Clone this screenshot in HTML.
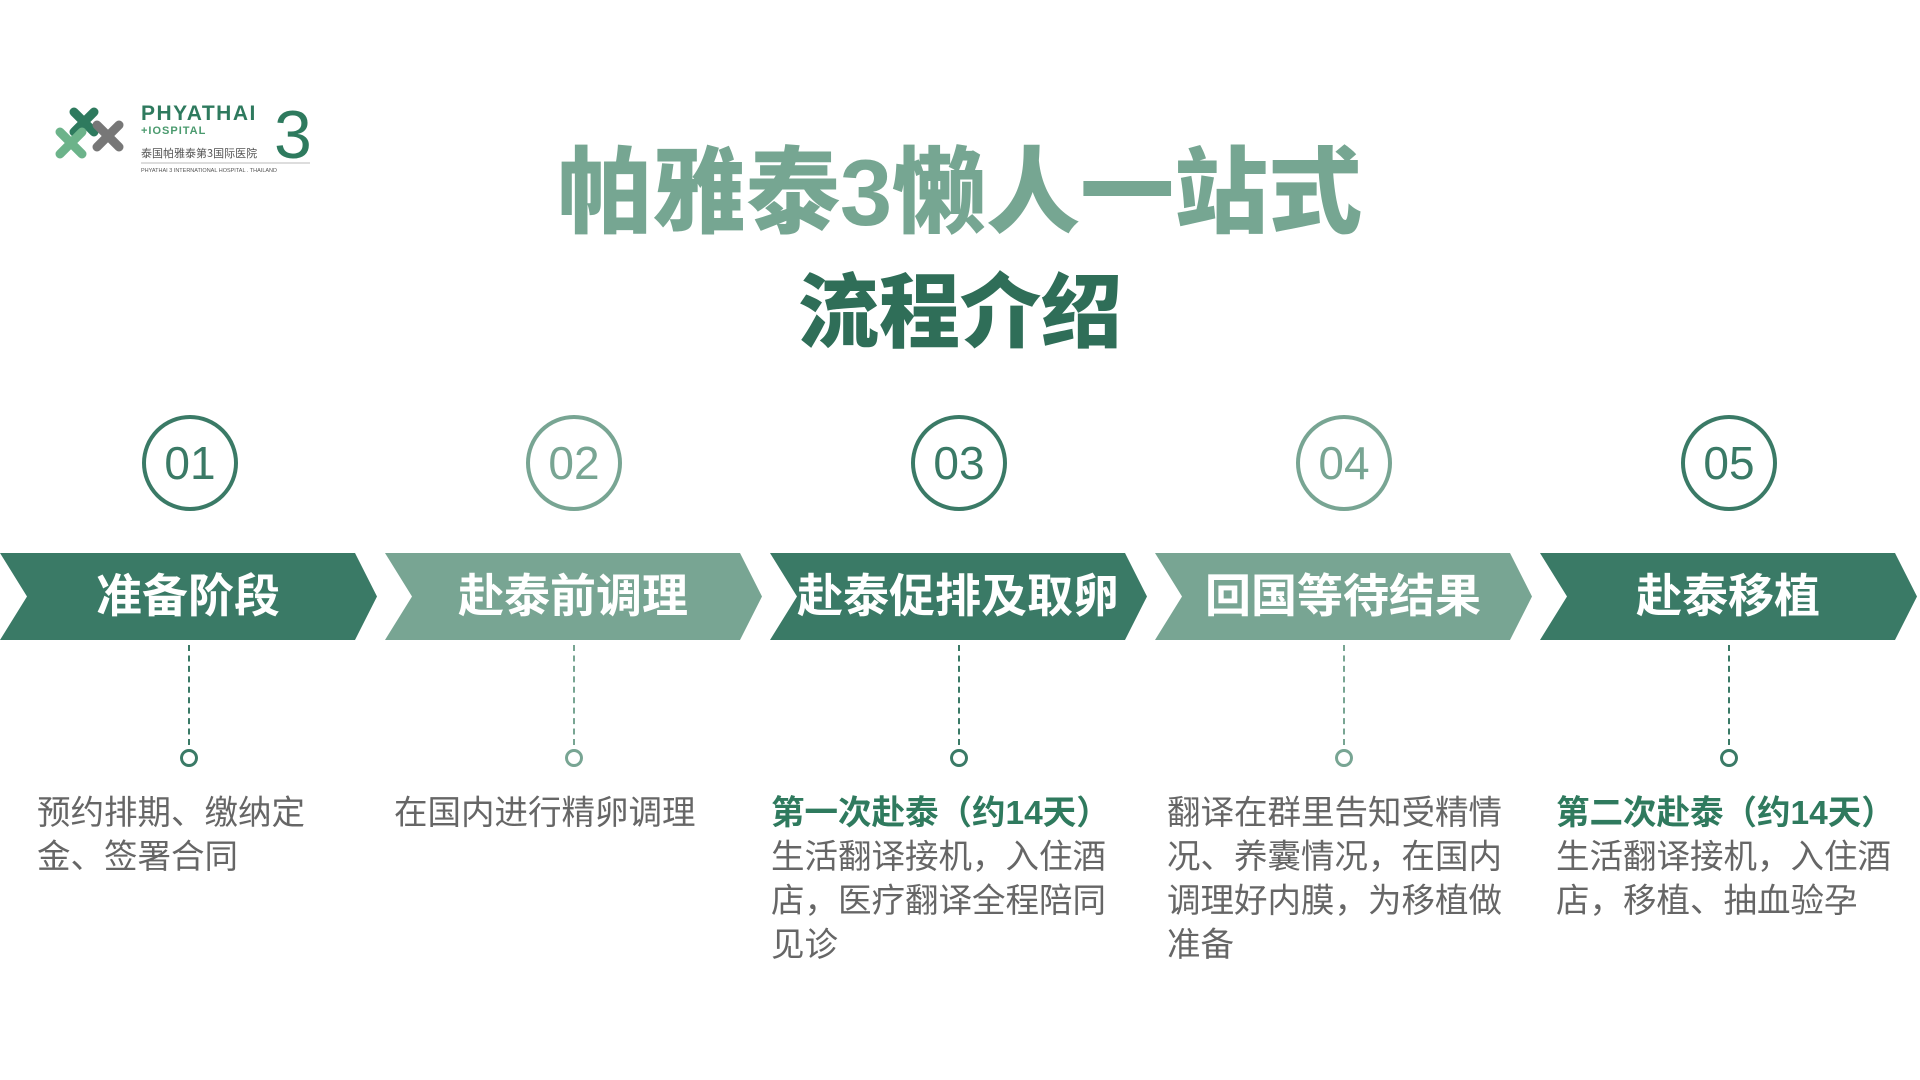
<!DOCTYPE html>
<html><head><meta charset="utf-8">
<style>
*{margin:0;padding:0;box-sizing:border-box}
body{width:1920px;height:1080px;background:#fff;position:relative;overflow:hidden;font-family:"Liberation Sans","Noto Sans CJK SC",sans-serif}
.t1{position:absolute;left:0;width:1920px;top:146px;text-align:center;font-size:94px;font-weight:900;color:#76a692;line-height:1}
.t2{position:absolute;left:0;width:1920px;top:274px;text-align:center;font-size:81px;font-weight:900;color:#2f6e58;line-height:1}
.num{position:absolute;width:96px;height:96px;border-radius:50%;border:4px solid;top:415px;text-align:center;line-height:88px;font-size:46px}
.lbl{position:absolute;top:553px;height:87px;line-height:87px;color:#fff;font-weight:bold;font-size:46px;text-align:center;width:360px}
.dash{position:absolute;top:645px;height:100px;border-left:2px dashed}
.dot{position:absolute;top:749px;width:18px;height:18px;border-radius:50%;border:3px solid;background:#fff}
.desc{position:absolute;top:792px;font-size:33.5px;line-height:44px;color:#666;white-space:nowrap}
.desc b{color:#2f7a5e;font-weight:bold}
</style></head><body>
<svg style="position:absolute;left:52px;top:100px" width="270" height="80">
<g stroke-linecap="round" stroke-width="9">
<path d="M22 12 L42 32 M42 12 L22 32" stroke="#2e7a5e"/>
<path d="M45 25 L67 47 M67 25 L45 47" stroke="#777"/>
<path d="M8 32 L30 54 M30 32 L8 54" stroke="#6cb38a"/>
</g>
<text x="89" y="20" font-family="Liberation Sans" font-weight="bold" font-size="21" letter-spacing="1.5" fill="#2e7a5e">PHYATHAI</text>
<text x="89" y="34" font-family="Liberation Sans" font-weight="bold" font-size="11" letter-spacing="1" fill="#4a9a6e">+IOSPITAL</text>
<text x="89" y="57" font-family="Noto Sans CJK SC" font-size="11" fill="#555">泰国帕雅泰第3国际医院</text>
<line x1="89" y1="63" x2="258" y2="63" stroke="#bbb"/>
<text x="89" y="72" font-family="Liberation Sans" font-size="5.5" fill="#555">PHYATHAI 3 INTERNATIONAL HOSPITAL . THAILAND</text>
<text x="222" y="58" font-family="Liberation Sans" font-size="68" fill="#2e7a5e">3</text>
</svg>
<div class="t1">帕雅泰3懒人一站式</div>
<div class="t2">流程介绍</div>

<svg style="position:absolute;left:0;top:553px" width="1920" height="87">
<polygon points="0,0 355,0 377,43.5 355,87 0,87 27,43.5" fill="#3a7a66"/>
<polygon points="385,0 740,0 762,43.5 740,87 385,87 412,43.5" fill="#78a593"/>
<polygon points="770,0 1125,0 1147,43.5 1125,87 770,87 797,43.5" fill="#3a7a66"/>
<polygon points="1155,0 1510,0 1532,43.5 1510,87 1155,87 1182,43.5" fill="#78a593"/>
<polygon points="1540,0 1895,0 1917,43.5 1895,87 1540,87 1567,43.5" fill="#3a7a66"/>
</svg>

<div class="num" style="left:142px;border-color:#3a7a66;color:#3a7a66">01</div>
<div class="num" style="left:526px;border-color:#78a593;color:#78a593">02</div>
<div class="num" style="left:911px;border-color:#3a7a66;color:#3a7a66">03</div>
<div class="num" style="left:1296px;border-color:#78a593;color:#78a593">04</div>
<div class="num" style="left:1681px;border-color:#3a7a66;color:#3a7a66">05</div>

<div class="lbl" style="left:8px">准备阶段</div>
<div class="lbl" style="left:393px">赴泰前调理</div>
<div class="lbl" style="left:778px">赴泰促排及取卵</div>
<div class="lbl" style="left:1163px">回国等待结果</div>
<div class="lbl" style="left:1548px">赴泰移植</div>

<div class="dash" style="left:188px;border-color:#3a7a66"></div>
<div class="dash" style="left:573px;border-color:#78a593"></div>
<div class="dash" style="left:958px;border-color:#3a7a66"></div>
<div class="dash" style="left:1343px;border-color:#78a593"></div>
<div class="dash" style="left:1728px;border-color:#3a7a66"></div>
<div class="dot" style="left:180px;border-color:#3a7a66"></div>
<div class="dot" style="left:565px;border-color:#78a593"></div>
<div class="dot" style="left:950px;border-color:#3a7a66"></div>
<div class="dot" style="left:1335px;border-color:#78a593"></div>
<div class="dot" style="left:1720px;border-color:#3a7a66"></div>

<div class="desc" style="left:37px">预约排期、缴纳定<br>金、签署合同</div>
<div class="desc" style="left:394px">在国内进行精卵调理</div>
<div class="desc" style="left:771px"><b>第一次赴泰（约14天）</b><br>生活翻译接机，入住酒<br>店，医疗翻译全程陪同<br>见诊</div>
<div class="desc" style="left:1167px">翻译在群里告知受精情<br>况、养囊情况，在国内<br>调理好内膜，为移植做<br>准备</div>
<div class="desc" style="left:1556px"><b>第二次赴泰（约14天）</b><br>生活翻译接机，入住酒<br>店，移植、抽血验孕</div>
</body></html>
